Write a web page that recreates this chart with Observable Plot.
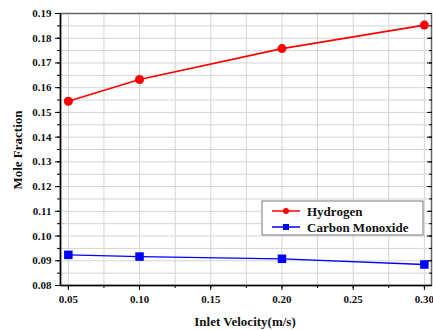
<!DOCTYPE html>
<html><head><meta charset="utf-8">
<script src="https://cdn.jsdelivr.net/npm/d3@7"></script>
<script src="https://cdn.jsdelivr.net/npm/@observablehq/plot@0.6"></script>
<style>
body{margin:0;background:#fff;}
#chart{width:433px;height:330px;}
</style></head>
<body><div id="chart"></div>
<script>
const velocity = [0.05, 0.10, 0.20, 0.30];
const hydrogen = [0.1545, 0.1633, 0.1758, 0.1853];
const carbonMonoxide = [0.0924, 0.0917, 0.0908, 0.0885];
const seriesNames = ["Hydrogen", "Carbon Monoxide"];
const xTicks = [0.05, 0.10, 0.15, 0.20, 0.25, 0.30];
const yTicks = [0.08, 0.09, 0.10, 0.11, 0.12, 0.13, 0.14, 0.15, 0.16, 0.17, 0.18, 0.19];
const xMinor = d3.range(0.05, 0.3001, 0.025);
const yMinor = d3.range(0.08, 0.1901, 0.005);

const h2 = velocity.map((v,i)=>({v, y: hydrogen[i], s: seriesNames[0]}));
const co = velocity.map((v,i)=>({v, y: carbonMonoxide[i], s: seriesNames[1]}));
const font = "'Liberation Serif', 'Times New Roman', serif";

const plot = Plot.plot({
  width: 433, height: 330,
  marginLeft: 60, marginRight: 2, marginTop: 13, marginBottom: 45,
  style: {fontFamily: font, fontWeight: "bold", fontSize: "11px", background: "#fff"},
  x: {domain: [0.0445, 0.305]},
  y: {domain: [0.08, 0.19]},
  marks: [
    Plot.gridX(xMinor, {stroke: "#d4d4d4", strokeOpacity: 1}),
    Plot.gridY(yMinor, {stroke: "#d4d4d4", strokeOpacity: 1}),
    Plot.frame({stroke: "#666", strokeWidth: 1.5}),
    Plot.axisY(yTicks, {tickFormat: d3.format(".2f"), tickSize: 5, tickPadding: 4, label: null, fill: "#111", fontWeight: "bold"}),
    Plot.axisY(yMinor, {tickSize: 3, tickFormat: null, label: null, text: null}),
    Plot.axisY(yTicks, {anchor: "right", tickSize: -5, text: null, label: null}),
    Plot.axisY(yMinor, {anchor: "right", tickSize: -3, text: null, label: null}),
    Plot.axisX(xTicks, {tickFormat: d3.format(".2f"), tickSize: 5, tickPadding: 5, label: null, fill: "#111", fontWeight: "bold"}),
    Plot.axisX(xMinor, {tickSize: 3, text: null, label: null}),
    Plot.ruleX([0.0445], {stroke: "#000", strokeWidth: 1.5}),
    Plot.ruleY([0.08], {stroke: "#000", strokeWidth: 1.5}),
    Plot.line(h2, {x: "v", y: "y", stroke: "#ff0000", strokeWidth: 1.7}),
    Plot.dot(h2, {x: "v", y: "y", fill: "#ff0000", r: 4.5, symbol: "circle"}),
    Plot.line(co, {x: "v", y: "y", stroke: "#0000ff", strokeWidth: 1.3}),
    Plot.dot(co, {x: "v", y: "y", fill: "#0000ff", r: 4.8, symbol: "square"})
  ]
});

const svg = d3.select(plot);
// axis titles
svg.append("text").attr("x", 245).attr("y", 326).attr("text-anchor", "middle")
  .attr("font-family", font).attr("font-weight", "bold").attr("font-size", 13).attr("fill", "#111")
  .text("Inlet Velocity(m/s)");
svg.append("text").attr("transform", "translate(22,150) rotate(-90)").attr("text-anchor", "middle")
  .attr("font-family", font).attr("font-weight", "bold").attr("font-size", 13).attr("fill", "#111")
  .text("Mole Fraction");

// legend
const lg = svg.append("g").attr("transform", "translate(262,201)");
lg.append("rect").attr("width", 161).attr("height", 34).attr("fill", "#fff").attr("stroke", "#777").attr("stroke-width", 1);
const colors = ["#ff0000", "#0000ff"];
seriesNames.forEach((name, i) => {
  const yy = 10 + i * 16;
  lg.append("line").attr("x1", 10).attr("x2", 38).attr("y1", yy).attr("y2", yy).attr("stroke", colors[i]).attr("stroke-width", 1.5);
  if (i === 0) lg.append("circle").attr("cx", 24).attr("cy", yy).attr("r", 3).attr("fill", colors[i]);
  else lg.append("rect").attr("x", 21).attr("y", yy - 3).attr("width", 6).attr("height", 6).attr("fill", colors[i]);
  lg.append("text").attr("x", 45).attr("y", yy + 4.5).attr("text-anchor", "start").attr("font-family", font).attr("font-weight", "bold")
    .attr("font-size", 13).attr("fill", "#111").text(name);
});

document.getElementById("chart").appendChild(plot);
</script></body></html>
